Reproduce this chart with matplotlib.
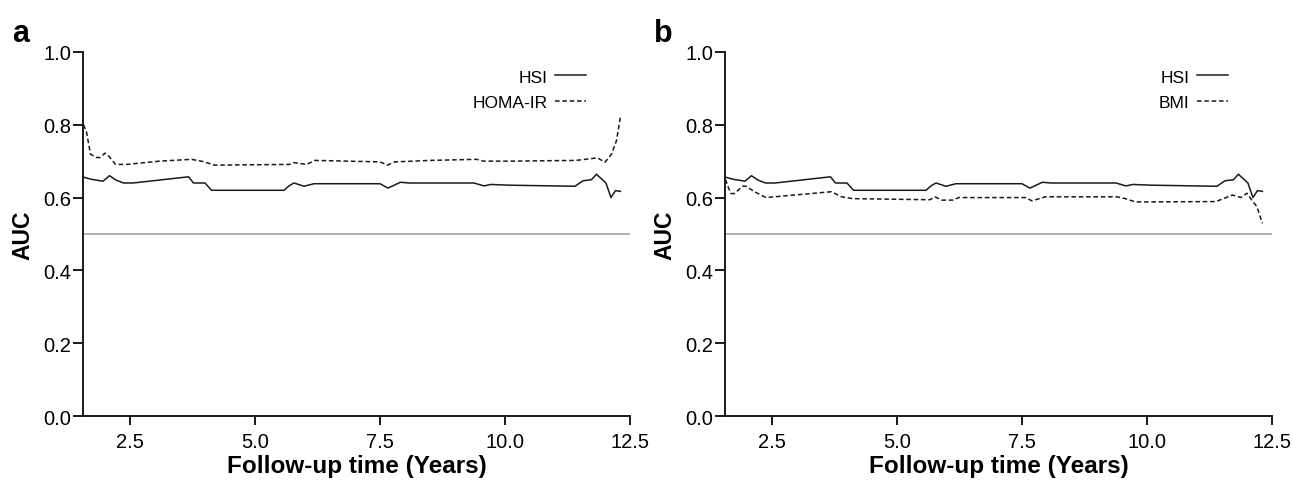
import matplotlib
matplotlib.use("Agg")
import matplotlib.pyplot as plt

plt.rcParams["font.family"] = ["Liberation Sans", "DejaVu Sans"]

# HSI curve (same in both panels)
hsi_years = [1.57, 1.73, 1.96, 2.09, 2.22, 2.37, 2.56, 3.67, 3.77, 4.0, 4.13,
             5.58, 5.68, 5.78, 5.98, 6.18, 7.5, 7.66, 7.91, 8.08, 9.38, 9.58,
             9.72, 10.08, 11.4, 11.56, 11.73, 11.83, 12.02, 12.12, 12.21, 12.31]
hsi_auc = [0.656, 0.650, 0.645, 0.660, 0.648, 0.640, 0.640, 0.657, 0.640, 0.640, 0.620,
           0.620, 0.632, 0.640, 0.631, 0.638, 0.638, 0.626, 0.642, 0.640, 0.640, 0.632,
           0.636, 0.634, 0.631, 0.646, 0.649, 0.664, 0.640, 0.600, 0.619, 0.617]

# HOMA-IR (panel a)
homa_years = [1.57, 1.63, 1.71, 1.83, 1.9, 2.0, 2.08, 2.21, 2.43, 3.09, 3.73, 3.96,
              4.19, 5.69, 5.77, 6.03, 6.2, 7.5, 7.65, 7.8, 8.5, 9.43, 9.57, 10.1,
              11.42, 11.85, 12.0, 12.13, 12.23, 12.31]
homa_auc = [0.800, 0.780, 0.719, 0.710, 0.710, 0.722, 0.713, 0.691, 0.691, 0.700, 0.705, 0.699,
            0.689, 0.691, 0.696, 0.691, 0.702, 0.698, 0.689, 0.698, 0.702, 0.705, 0.700, 0.700,
            0.702, 0.709, 0.697, 0.719, 0.756, 0.822]

# BMI (panel b)
bmi_years = [1.57, 1.62, 1.68, 1.75, 1.91, 1.98, 2.15, 2.38, 3.69, 3.89, 4.12, 5.66,
             5.76, 5.89, 6.13, 6.23, 7.57, 7.7, 7.97, 9.4, 9.57, 9.77, 10.07, 11.38,
             11.71, 11.88, 12.0, 12.12, 12.2, 12.31]
bmi_auc = [0.650, 0.630, 0.611, 0.611, 0.631, 0.631, 0.616, 0.600, 0.616, 0.602, 0.597, 0.594,
           0.602, 0.593, 0.593, 0.600, 0.600, 0.591, 0.602, 0.602, 0.597, 0.588, 0.588, 0.589,
           0.607, 0.600, 0.612, 0.589, 0.575, 0.529]

x_ticks = [2.5, 5.0, 7.5, 10.0, 12.5]
y_ticks = [0.0, 0.2, 0.4, 0.6, 0.8, 1.0]
reference_auc = 0.5

panels = [
    ("a", "HOMA-IR", homa_years, homa_auc),
    ("b", "BMI", bmi_years, bmi_auc),
]

fig = plt.figure(figsize=(12.93, 4.81), dpi=100)
lefts = [0.0642, 0.5607]
letter_x = [0.009, 0.506]

for (letter, other_name, other_x, other_y), left, lx in zip(panels, lefts, letter_x):
    ax = fig.add_axes([left, 0.133, 0.423, 0.757])
    ax.axhline(reference_auc, color="#a6a6a6", linewidth=1.2, zorder=1)
    ax.plot(hsi_years, hsi_auc, color="#1a1a1a", linewidth=1.1, label="HSI")
    ax.plot(other_x, other_y, color="#1a1a1a", linewidth=1.1,
            dashes=(3.0, 1.8), label=other_name)

    ax.set_xlim(1.56, 12.5)
    ax.set_ylim(0, 1.0)
    ax.set_xticks(x_ticks)
    ax.set_xticklabels([f"{t:.1f}" for t in x_ticks])
    ax.set_yticks(y_ticks)
    ax.set_yticklabels([f"{t:.1f}" for t in y_ticks])
    ax.tick_params(axis="both", labelsize=14.5, width=1.4, color="#1a1a1a")
    ax.tick_params(axis="y", length=7.5, pad=1)
    ax.tick_params(axis="x", length=6.5, pad=5)
    for side in ["top", "right"]:
        ax.spines[side].set_visible(False)
    for side in ["left", "bottom"]:
        ax.spines[side].set_linewidth(1.4)
        ax.spines[side].set_color("#1a1a1a")

    ax.set_xlabel("Follow-up time (Years)", fontsize=17.5, fontweight="bold", labelpad=2)
    ax.set_ylabel("AUC", fontsize=16.5, fontweight="bold")
    ax.yaxis.set_label_coords(-0.088, 0.5)

    ax.legend(loc="upper right", bbox_to_anchor=(0.919, 0.952), frameon=False,
              markerfirst=False, fontsize=12.5, handlelength=1.75,
              handletextpad=0.45, labelspacing=0.57, borderaxespad=0,
              borderpad=0)

    fig.text(lx, 0.913, letter, fontsize=22, fontweight="bold", ha="left",
             va="baseline")

fig.savefig("out.png", dpi=100)
